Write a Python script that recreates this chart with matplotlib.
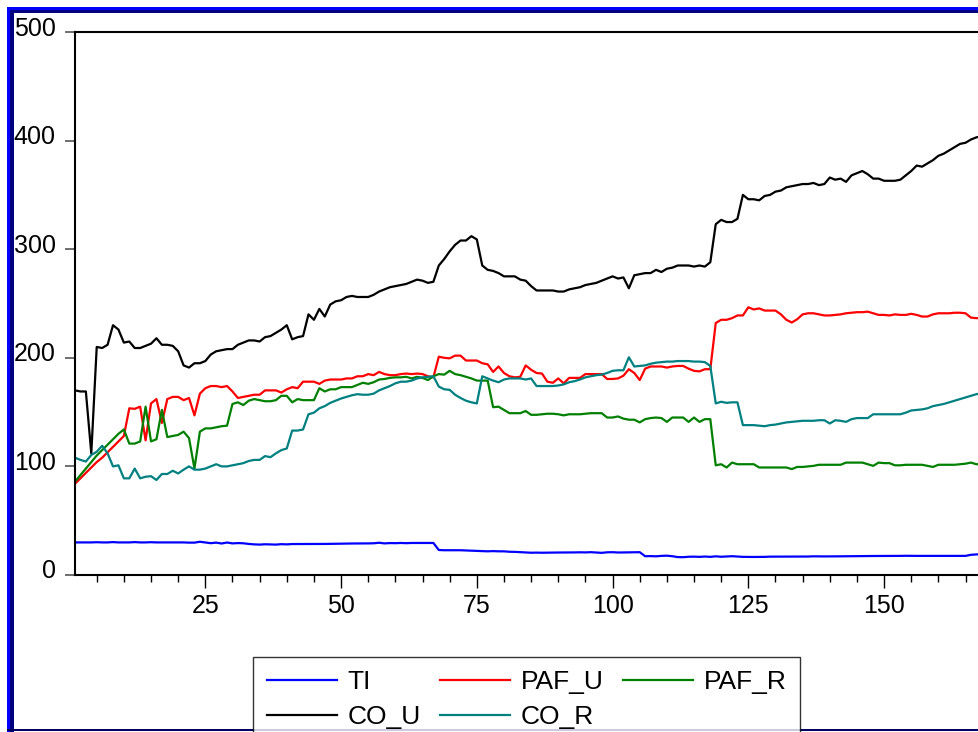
import matplotlib
matplotlib.use("Agg")
import matplotlib.pyplot as plt
import matplotlib.transforms as mtransforms
from matplotlib.patches import Rectangle
from matplotlib.ticker import MultipleLocator
import numpy as np

plt.rcParams['font.family'] = ['Liberation Sans', 'DejaVu Sans']

# observations 1..168
ti = [30, 30, 30, 30, 30.2, 30, 30, 30.3, 30, 30, 30, 30.3, 30, 30, 30.2, 30, 30, 30, 30, 30.1,
      30, 29.8, 29.8, 30.6, 29.9, 29.3, 29.8, 29.0, 29.9, 29.1, 29.4, 29.2, 28.6, 28.2, 28.0, 28.3,
      28.1, 28.0, 28.4, 28.2, 28.5, 28.5, 28.4, 28.5, 28.6, 28.5, 28.6, 28.7, 28.8, 28.8, 28.9,
      29.0, 29.0, 29.0, 29.1, 29.2, 29.7, 29.1, 29.4, 29.3, 29.5, 29.3, 29.5, 29.5, 29.5, 29.5,
      29.5, 23.0, 22.8, 22.8, 22.8, 22.8, 22.6, 22.5, 22.3, 22.1, 21.8, 22.0, 21.8, 21.8, 21.4,
      21.3, 21.0, 20.6, 20.5, 20.6, 20.5, 20.6, 20.7, 20.7, 20.7, 20.8, 20.8, 20.9, 20.8, 21.0,
      20.7, 20.4, 20.9, 21.0, 20.7, 20.8, 20.9, 20.9, 21.0, 17.3, 17.4, 17.2, 17.6, 17.8, 17.3,
      16.5, 16.4, 16.8, 16.9, 16.7, 17.0, 16.7, 17.2, 16.8, 17.0, 17.3, 17.0, 16.7, 16.6, 16.6,
      16.6, 16.7, 16.9, 16.9, 16.9, 16.9, 16.9, 16.9, 17.0, 17.0, 17.2, 17.1, 17.1, 17.1, 17.1,
      17.2, 17.3, 17.3, 17.3, 17.4, 17.5, 17.5, 17.5, 17.6, 17.6, 17.6, 17.6, 17.7, 17.6, 17.6,
      17.6, 17.6, 17.6, 17.6, 17.6, 17.6, 17.6, 17.6, 17.6, 18.6, 19.0, 19.2]

paf_u = [84, 89, 94, 99, 104, 108, 113, 118, 123, 128, 153.5, 153, 155, 124, 158, 162, 140, 162,
         164, 164, 161, 163, 147, 167, 172, 174, 174, 173, 174, 169, 163, 164, 165, 166, 166, 170,
         170, 170, 168, 171, 173, 172, 178, 178, 178, 176, 179, 180, 180, 180, 181, 181, 183, 183,
         185, 184, 187, 185, 184, 184, 185, 185.5, 185, 185.5, 185, 183, 182, 201, 200, 199.5, 202,
         202, 197.5, 197.5, 197.5, 195, 194, 187, 192, 186, 183, 182, 182.5, 193, 189, 186, 185.5,
         178, 177, 181, 176.5, 181.5, 181.5, 181.5, 185, 185, 185, 185, 180.5, 180.5, 181, 183.5,
         189.5, 186, 179.5, 190, 192, 192, 192, 191, 192, 192.5, 192.5, 190, 188, 187.5, 189.5,
         189.5, 232, 235, 235, 236.5, 239, 239, 246.5, 244.5, 245.5, 243.5, 243.5, 243.5, 240, 235,
         232.5, 235.5, 240, 241, 241, 240, 239, 239, 239.5, 240, 241, 241.5, 242, 242, 242.5, 241,
         239.5, 239.5, 239, 240, 239.5, 239.5, 240.5, 239.5, 238, 238, 240, 241, 241, 241, 241.5,
         241.5, 241, 237, 236.5, 236.5]

paf_r = [86, 92, 98, 104, 110, 115, 120, 125, 130, 134, 121, 121, 123, 155, 123, 125, 152, 127,
         128, 129, 132, 126, 98, 132, 135, 135, 136, 137, 137.5, 157.5, 159, 156.5, 160.5, 162, 161,
         160, 160, 161, 165, 165, 159, 162, 161, 161, 161, 172, 169, 171, 171, 173, 173, 173, 175,
         177, 176, 177.5, 180, 180.5, 181.5, 182, 182, 182.5, 181, 182.5, 181.5, 179.5, 183, 185,
         184.5, 188, 185, 184, 182.5, 181, 179, 179, 179, 154.5, 155, 152, 149, 149, 149, 151,
         147.5, 147.5, 148, 148.5, 148.5, 148, 147, 148, 148, 148, 148.5, 149, 149, 149, 145, 145,
         146, 144, 143, 143, 140.5, 143.5, 144.5, 145, 144.5, 141, 145, 145, 145, 141, 145, 141,
         143.5, 143.5, 101, 102, 99, 103.5, 102, 102, 102, 102, 99, 99, 99, 99, 99, 99, 97.5, 99.5,
         99.5, 100, 100.5, 101.5, 101.5, 101.5, 101.5, 101.5, 103.5, 103.5, 103.5, 103.5, 102,
         100.5, 103.5, 103, 103, 101, 101, 101.5, 101.5, 101.5, 101.5, 100.5, 99.5, 101.5, 101.5,
         101.5, 101.5, 102, 102.5, 103.5, 102, 102]

co_u = [170, 169, 169, 112, 210, 209, 212, 230, 226, 214, 215, 209, 209, 211, 213, 218, 212, 212,
        211, 206, 193, 191, 195, 195, 197, 203, 206, 207, 208, 208, 212, 214, 216, 216, 215, 219,
        220, 223, 226, 230, 217, 219, 220, 240, 235, 245, 238, 249, 252, 253, 256, 257, 256, 256,
        256, 258, 261, 263, 265, 266, 267, 268, 270, 272, 271, 269, 270, 285, 291, 298, 304, 308,
        308, 312, 309, 285, 281, 280, 278, 275, 275, 275, 272, 271, 266, 262, 262, 262, 262, 261,
        261, 263, 264, 265, 267, 268, 269, 271, 273, 275, 273, 274, 264, 276, 277, 278, 278, 281,
        279, 282, 283, 285, 285, 285, 284, 285, 284, 288, 323, 327, 325, 325, 328, 350, 346, 346,
        345, 349, 350, 353, 354, 357, 358, 359, 360, 360, 361, 359, 360, 366, 364, 365, 362, 368,
        370, 372, 369, 365, 365, 363, 363, 363, 364, 368, 372, 377, 376, 379, 382, 386, 388, 391,
        394, 397, 398, 401, 403, 404]

co_r = [108, 106, 104.5, 110.5, 113.5, 119, 112, 100, 101, 89, 89, 98, 89, 90.5, 91, 87.5, 93, 93,
        96, 93.5, 97, 100, 97, 97, 98, 100, 102, 100, 100, 101, 102, 103, 105, 106, 106, 109.5,
        108.5, 112, 115, 116.5, 133, 133, 134, 148, 149.5, 153.5, 155.5, 158.5, 160.5, 162.5, 164,
        165.5, 166.5, 166, 166, 167, 170, 172, 174, 176.5, 178, 178, 179, 181, 182, 182.5, 183,
        173.5, 171, 170.5, 166, 163, 160.5, 159, 158, 183, 181, 179, 177.5, 180, 181, 181, 181, 180,
        181, 174, 174, 174, 174, 174.5, 175.5, 177.5, 178.5, 180, 182, 183, 184, 184.5, 186, 188,
        188.5, 188.5, 200.5, 192, 192.5, 193, 194.5, 195.5, 196, 196.5, 196.5, 197, 197, 197, 196.5,
        196.5, 196, 192.5, 158, 159.5, 158.5, 159, 159, 138, 138, 138, 137.5, 137, 138, 138.5,
        139.5, 140.5, 141, 141.5, 142, 142, 142, 142.5, 142.5, 139.5, 142.5, 142, 141, 143.5, 144.5,
        144.5, 144.5, 148, 148, 148, 148, 148, 148, 149.5, 151.5, 152, 152.5, 153.5, 155.5, 156.5,
        157.5, 159, 160.5, 162, 163.5, 165, 166.5, 167.5]

obs = np.arange(1, len(co_u) + 1)

W, H = 979, 732
fig = plt.figure(figsize=(W / 100, H / 100), dpi=100)
fig.patch.set_facecolor("white")

# axes: left edge at px 75, plot 0..500 between px 575 and 32, x scale ~5.43 px per obs
x_lo, x_hi = 1, 170
ax = fig.add_axes([75 / W, (H - 575) / H, (x_hi - x_lo) * 5.43 / W, 543 / H])

ax.plot(obs, ti, color="#0000FF", lw=1.6, label="TI")
ax.plot(obs, paf_u, color="#FF0000", lw=1.6, label="PAF_U")
ax.plot(obs, paf_r, color="#008000", lw=1.6, label="PAF_R")
ax.plot(obs, co_u, color="#000000", lw=1.6, label="CO_U")
ax.plot(obs, co_r, color="#008080", lw=1.6, label="CO_R")

ax.set_xlim(x_lo, x_hi)
ax.set_ylim(0, 500)
ax.set_xticks([25, 50, 75, 100, 125, 150])
ax.xaxis.set_minor_locator(MultipleLocator(5))
ax.set_yticks([0, 100, 200, 300, 400, 500])
ax.tick_params(axis="x", which="major", direction="out", length=9, width=1, labelsize=18, pad=5)
ax.tick_params(axis="x", which="minor", direction="out", length=5, width=1)
ax.tick_params(axis="y", direction="out", length=7, width=1.2, color="#555555", labelsize=18, pad=7)
ax.tick_params(top=False, right=False)
for s in ["left", "bottom", "top"]:
    ax.spines[s].set_linewidth(1.5)
ax.spines["right"].set_visible(False)

off = mtransforms.ScaledTranslation(0, 0.06, fig.dpi_scale_trans)
for lab in ax.get_yticklabels():
    lab.set_transform(lab.get_transform() + off)

# legend, row order TI PAF_U PAF_R / CO_U CO_R
h, l = ax.get_legend_handles_labels()
order = [0, 3, 1, 4, 2]
leg = fig.legend([h[i] for i in order], [l[i] for i in order], ncol=3,
                 loc="upper left", bbox_to_anchor=(253.5 / W, 1 - 657 / H),
                 fontsize=19, handlelength=2.65, handletextpad=0.4, columnspacing=0.75,
                 labelspacing=0.42, borderpad=0.5, borderaxespad=0, fancybox=False,
                 frameon=True, edgecolor="black")
leg.get_frame().set_linewidth(1.0)

# window border (blue/navy)
fig.add_artist(Rectangle((7 / W, (H - 10) / H), 1, 3 / H, transform=fig.transFigure,
                         color="#0000FF", lw=0))
fig.add_artist(Rectangle((10 / W, (H - 13) / H), 1, 3 / H, transform=fig.transFigure,
                         color="#000080", lw=0))
fig.add_artist(Rectangle((7 / W, 0), 3 / W, (H - 7) / H, transform=fig.transFigure,
                         color="#0000FF", lw=0))
fig.add_artist(Rectangle((10 / W, 0), 4 / W, (H - 10) / H, transform=fig.transFigure,
                         color="#000080", lw=0))
fig.add_artist(Rectangle((7 / W, 1 / H), 1, 2 / H, transform=fig.transFigure,
                         color="#000060", lw=0))

fig.savefig("out.png", dpi=100)
